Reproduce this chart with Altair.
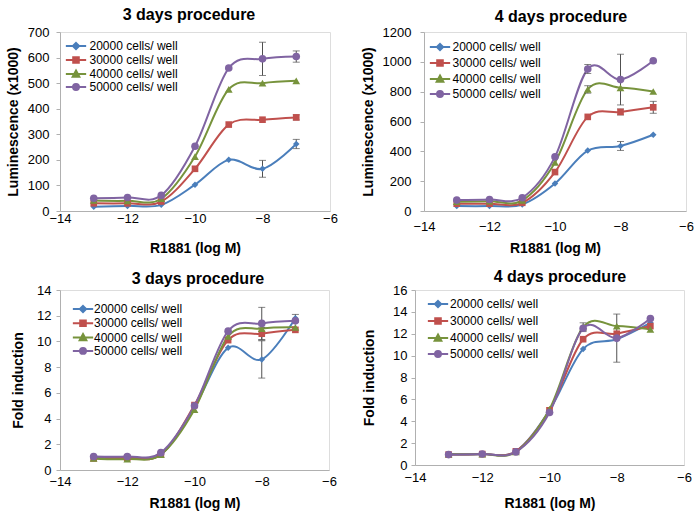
import altair as alt
import pandas as pd

# ---------------- data ----------------
x_log_m = [-13, -12, -11, -10, -9, -8, -7]
series_names = ["20000 cells/ well", "30000 cells/ well", "40000 cells/ well", "50000 cells/ well"]
series_colors = ["#4A7EBB", "#C0504D", "#77933C", "#8064A2"]

# 3 days procedure, luminescence (x1000)
lum3_20000 = [17, 20, 24, 103, 200, 165, 262]
lum3_30000 = [30, 30, 37, 165, 338, 357, 366]
lum3_40000 = [41, 40, 48, 213, 476, 500, 509]
lum3_50000 = [50, 53, 61, 253, 559, 595, 604]
lum3_err_20000 = [0, 0, 0, 0, 0, 33, 18]
lum3_err_30000 = [0, 0, 0, 0, 0, 0, 10]
lum3_err_40000 = [0, 0, 0, 0, 0, 0, 0]
lum3_err_50000 = [0, 0, 0, 0, 0, 65, 22]

# 4 days procedure, luminescence (x1000)
lum4_20000 = [33, 33, 44, 184, 405, 436, 511]
lum4_30000 = [49, 49, 55, 261, 631, 664, 695]
lum4_40000 = [62, 66, 71, 325, 815, 826, 801]
lum4_50000 = [73, 77, 89, 363, 952, 881, 1007]
lum4_err_20000 = [0, 0, 0, 0, 0, 30, 0]
lum4_err_30000 = [0, 0, 0, 0, 0, 20, 40]
lum4_err_40000 = [0, 0, 0, 0, 25, 0, 0]
lum4_err_50000 = [0, 0, 0, 0, 30, 170, 0]

# 3 days procedure, fold induction
fold3_20000 = [0.95, 1.0, 1.2, 4.9, 9.5, 8.6, 11.8]
fold3_30000 = [0.9, 0.95, 1.2, 5.05, 10.1, 10.6, 10.9]
fold3_40000 = [0.9, 0.85, 1.2, 4.7, 10.4, 11.0, 11.1]
fold3_50000 = [1.05, 1.05, 1.35, 5.0, 10.8, 11.4, 11.6]
fold3_err_20000 = [0, 0, 0, 0, 0, 1.45, 0.3]
fold3_err_30000 = [0, 0, 0, 0, 0, 0.5, 0]
fold3_err_40000 = [0, 0, 0, 0, 0, 0, 0]
fold3_err_50000 = [0, 0, 0, 0, 0, 1.25, 0]

# 4 days procedure, fold induction
fold4_20000 = [0.95, 1.0, 1.25, 5.0, 10.6, 11.5, 13.0]
fold4_30000 = [0.95, 1.0, 1.25, 5.0, 11.5, 12.0, 12.7]
fold4_40000 = [1.0, 1.0, 1.2, 5.1, 12.6, 12.7, 12.4]
fold4_50000 = [0.95, 1.0, 1.2, 4.8, 12.5, 11.6, 13.4]
fold4_err_20000 = [0, 0, 0, 0, 0, 0, 0]
fold4_err_30000 = [0, 0, 0, 0, 0, 0, 0]
fold4_err_40000 = [0, 0, 0, 0, 0.4, 0, 0]
fold4_err_50000 = [0, 0, 0, 0, 0, 2.2, 0]

x_ticks = [-14, -12, -10, -8, -6]

# ---------------- style ----------------
FONT = "Liberation Sans"
FRAME = "#B0B0B0"
ERRC = "#505050"
marker_shapes = ["diamond", "square", "triangle-up", "circle"]
marker_sizes = [42, 44, 60, 58]
# legend symbols: a line with the marker on it (unit space, 1 unit = 3.5 px)
legend_paths = [
    "M-2.9,0H2.9M0,-0.9L0.9,0L0,0.9L-0.9,0Z",
    "M-2.9,0H2.9M-0.8,-0.8H0.8V0.8H-0.8Z",
    "M-2.9,0H2.9M0,-1L0.95,0.75L-0.95,0.75Z",
    "M-2.9,0H2.9M-0.85,0A0.85,0.85,0,1,1,0.85,0A0.85,0.85,0,1,1,-0.85,0Z",
]


def make_df(values, errors):
    rows = []
    for name, vals, errs in zip(series_names, values, errors):
        for xv, yv, ev in zip(x_log_m, vals, errs):
            rows.append({"series": name, "x": xv, "y": yv, "err": ev})
    return pd.DataFrame(rows)


def panel(values, errors, title, ytitle, ymax, ystep, w, h, title_dx, title_offset,
          ylab_pad, ytitle_pad, xlab_pad, xtitle_pad, leg_x, leg_y, leg_row, leg_lab):
    df = make_df(values, errors)
    xscale = alt.Scale(domain=[-14, -6], nice=False)
    xaxis = alt.Axis(values=x_ticks, title="R1881 (log M)", grid=False, ticks=False,
                     labelPadding=xlab_pad, titlePadding=xtitle_pad, domainColor=FRAME,
                     labelFont=FONT, labelFontSize=13, labelColor="black", format="d",
                     titleFont=FONT, titleFontSize=14, titleFontWeight="bold",
                     titleColor="black", labelFlush=False)
    yvals = list(range(0, ymax + 1, ystep))
    yscale = alt.Scale(domain=[0, ymax], nice=False)
    yaxis = alt.Axis(values=yvals, title=ytitle, grid=False, tickSize=4, tickColor=FRAME,
                     labelPadding=ylab_pad, titlePadding=ytitle_pad, domainColor=FRAME,
                     labelFont=FONT, labelFontSize=13, labelColor="black", format="d",
                     titleFont=FONT, titleFontSize=14, titleFontWeight="bold",
                     titleColor="black", labelFlush=False)

    def X(field):
        return alt.X(f"{field}:Q", scale=xscale, axis=xaxis)

    def Y(field):
        return alt.Y(f"{field}:Q", scale=yscale, axis=yaxis)

    base = alt.Chart(df)
    layers = []
    # smoothed lines, one per series
    for name, col in zip(series_names, series_colors):
        layers.append(base.transform_filter(alt.datum.series == name).mark_line(
            interpolate="cardinal", strokeWidth=2, color=col).encode(x=X("x"), y=Y("y")))
    # error bars
    errs = base.transform_filter("datum.err > 0").transform_calculate(
        lo="datum.y - datum.err", hi="datum.y + datum.err")
    layers.append(errs.mark_rule(color=ERRC, strokeWidth=1).encode(x=X("x"), y=Y("lo"), y2="hi:Q"))
    layers.append(errs.mark_tick(orient="horizontal", size=7, thickness=1, color=ERRC).encode(x=X("x"), y=Y("lo")))
    layers.append(errs.mark_tick(orient="horizontal", size=7, thickness=1, color=ERRC).encode(x=X("x"), y=Y("hi")))
    # markers
    for name, col, shp, sz in zip(series_names, series_colors, marker_shapes, marker_sizes):
        layers.append(base.transform_filter(alt.datum.series == name).mark_point(
            filled=True, shape=shp, size=sz, opacity=1, color=col).encode(x=X("x"), y=Y("y")))
    # legend-only layer: its marks lie outside the x domain and are clipped away
    color_scale = alt.Scale(domain=series_names, range=series_colors)
    leg = alt.Legend(title=None, orient="none", legendX=leg_x, legendY=leg_y,
                     labelFont=FONT, labelFontSize=12, labelColor="black",
                     symbolSize=49, symbolStrokeWidth=2, labelOffset=leg_lab, rowPadding=leg_row,
                     padding=0)
    layers.append(base.transform_calculate(xo="datum.x - 100").mark_point(
        filled=True, size=49, strokeWidth=2, opacity=1, clip=True).encode(
        x=X("xo"), y=Y("y"),
        fill=alt.Fill("series:N", scale=color_scale, legend=leg),
        stroke=alt.Stroke("series:N", scale=color_scale, legend=leg),
        shape=alt.Shape("series:N", scale=alt.Scale(domain=series_names, range=legend_paths), legend=leg)))
    return alt.layer(*layers).properties(
        width=w, height=h,
        title=alt.TitleParams(title, font=FONT, fontSize=16, fontWeight="bold", color="black",
                              anchor="middle", frame="group", dx=title_dx, offset=title_offset))


tl = panel([lum3_20000, lum3_30000, lum3_40000, lum3_50000],
           [lum3_err_20000, lum3_err_30000, lum3_err_40000, lum3_err_50000],
           "3 days procedure", "Luminescence (x1000)", 700, 100, 270, 179, -6, 3,
           7, 7, 1.5, 16, 10, 8, -1, 7.5)
tr = panel([lum4_20000, lum4_30000, lum4_40000, lum4_50000],
           [lum4_err_20000, lum4_err_30000, lum4_err_40000, lum4_err_50000],
           "4 days procedure", "Luminescence (x1000)", 1200, 200, 262, 179, 6, 1,
           9, 7, 9.5, 8, 10, 9, 1, 6.5)
bl = panel([fold3_20000, fold3_30000, fold3_40000, fold3_50000],
           [fold3_err_20000, fold3_err_30000, fold3_err_40000, fold3_err_50000],
           "3 days procedure", "Fold induction", 14, 2, 269, 180, 3.5, -3,
           5, 11, 5.5, 8, 17, 13, -0.7, 5)
br = panel([fold4_20000, fold4_30000, fold4_40000, fold4_50000],
           [fold4_err_20000, fold4_err_30000, fold4_err_40000, fold4_err_50000],
           "4 days procedure", "Fold induction", 16, 2, 269, 175, 10.5, -1,
           4, 16, 6.5, 12, 17, 8, 2, 6)

res = dict(x="independent", y="independent", fill="independent",
           stroke="independent", shape="independent")
resl = dict(fill="independent", stroke="independent", shape="independent")

row1 = alt.hconcat(tl, tr, spacing=22).resolve_scale(**res).resolve_legend(**resl)
row2 = alt.hconcat(bl, br, spacing=25).resolve_scale(**res).resolve_legend(**resl)

chart = alt.vconcat(row1, row2, spacing=12).resolve_scale(**res).resolve_legend(**resl).properties(
    padding={"left": 5, "top": 6, "right": 0, "bottom": 0}
).configure_view(stroke=FRAME, strokeWidth=1).configure(background="white")

chart.save("out.html", embed_options={"renderer": "svg", "actions": False})
